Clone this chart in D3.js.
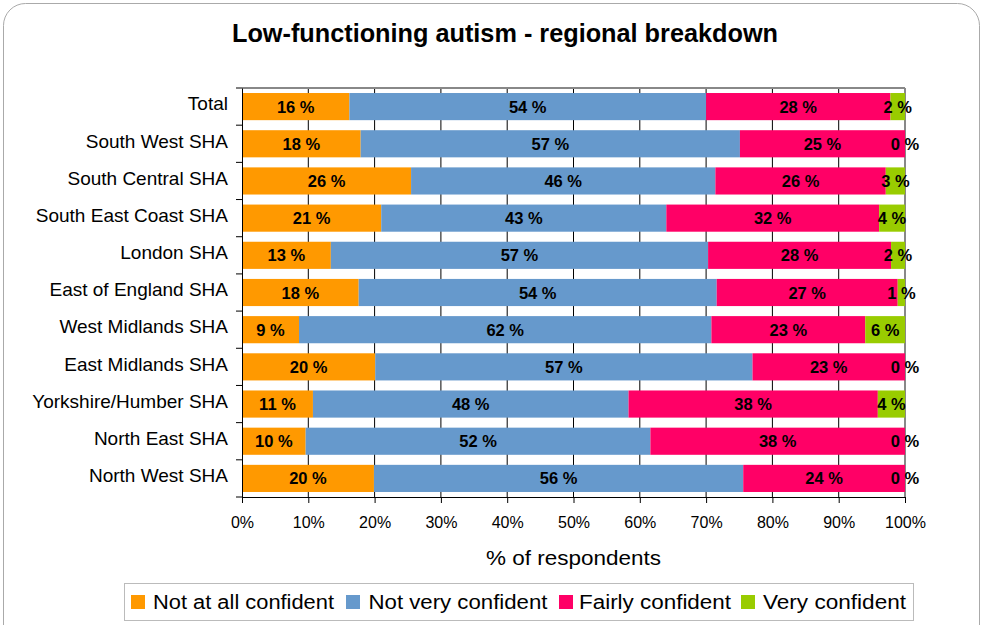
<!DOCTYPE html>
<html><head><meta charset="utf-8">
<script src="https://cdn.jsdelivr.net/npm/d3@7"></script>
<style>body{margin:0;background:#fff;font-family:"Liberation Sans",Arial,sans-serif}</style>
</head><body><svg id="c" width="983" height="625"></svg>
<script>
const categories = ["Total","South West SHA","South Central SHA","South East Coast SHA","London SHA","East of England SHA","West Midlands SHA","East Midlands SHA","Yorkshire/Humber SHA","North East SHA","North West SHA"];
const seriesNames = ["Not at all confident","Not very confident","Fairly confident","Very confident"];
const colors = ["#FF9900","#6699CC","#FF0066","#99CC00"];
const notAtAll = [16.2,17.9,25.5,21.0,13.4,17.6,8.6,20.1,10.7,9.6,19.9];
const notVery  = [53.8,57.2,45.9,43.0,56.9,54.0,62.2,56.9,47.6,52.0,55.7];
const fairly   = [27.8,24.9,25.7,32.1,27.6,27.3,23.2,23.0,37.6,38.4,24.4];
const very     = [2.2,0,2.9,3.9,2.1,1.1,6.0,0,4.1,0,0];
const xTicks = [0,10,20,30,40,50,60,70,80,90,100];

const FONT = "Liberation Sans, Arial, sans-serif";
const svg = d3.select("#c");
svg.append("rect").attr("x",3.5).attr("y",3.5).attr("width",976).attr("height",660).attr("rx",22)
  .attr("fill","#fff").attr("stroke","#aaa").attr("stroke-width",1);
svg.append("text").attr("x",505).attr("y",42).attr("text-anchor","middle")
  .attr("font-size",25).attr("font-weight","bold")
  .attr("textLength",546).attr("lengthAdjust","spacingAndGlyphs")
  .text("Low-functioning autism - regional breakdown");

const L=242, R=905, T=88, B=497;
const x = d3.scaleLinear().domain([0,100]).range([L,R]);
const y = d3.scaleBand().domain(categories).range([T,B]).paddingInner(0.27).paddingOuter(0.135);
const yb = d3.scaleBand().domain(categories).range([T,B]);

// gridlines
svg.append("g").selectAll("line").data(xTicks.slice(1)).join("line")
  .attr("x1",d=>x(d)).attr("x2",d=>x(d)).attr("y1",T).attr("y2",B)
  .attr("stroke",d=>d===100?"#888":"#000").attr("stroke-width",d=>d===100?2:1);
svg.append("line").attr("x1",L).attr("x2",R).attr("y1",T).attr("y2",T).attr("stroke","#888").attr("stroke-width",2);

const stackData = categories.map((c,i)=>({c, s0:notAtAll[i], s1:notVery[i], s2:fairly[i], s3:very[i]}));
const stack = d3.stack().keys(["s0","s1","s2","s3"])(stackData);

const g = svg.append("g");
stack.forEach((layer,k)=>{
  g.selectAll(null).data(layer).join("rect")
    .attr("x",d=>x(d[0])).attr("width",d=>Math.max(0,x(d[1])-x(d[0])))
    .attr("y",d=>y(d.data.c)).attr("height",y.bandwidth())
    .attr("fill",colors[k]);
});
stack.forEach((layer,k)=>{
  g.selectAll(null).data(layer).join("text")
    .attr("x",d=>(x(d[0])+x(d[1]))/2).attr("y",d=>y(d.data.c)+y.bandwidth()/2+6)
    .attr("text-anchor","middle").attr("font-size",16.5).attr("font-weight","bold").attr("fill","#000")
    .text(d=>Math.round(d[1]-d[0])+" %");
});

// axes
const xa = svg.append("g").attr("transform",`translate(0,${B})`)
  .call(d3.axisBottom(x).tickValues(xTicks).tickFormat(d=>d+"%").tickSize(6).tickSizeOuter(0));
xa.select(".domain").attr("stroke","#000");
xa.selectAll(".tick text").attr("font-size",16).attr("font-family",FONT).attr("y",31).attr("dy",0).attr("fill","#000");
const ya = svg.append("g").attr("transform",`translate(${L},0)`)
  .call(d3.axisLeft(yb).tickSize(0).tickPadding(14));
ya.select(".domain").attr("stroke","#000");
ya.selectAll(".tick text").attr("font-size",19).attr("font-family",FONT).attr("fill","#000").attr("dy","0.2em");
svg.append("g").selectAll("line").data(d3.range(categories.length+1)).join("line")
  .attr("x1",L-6).attr("x2",L).attr("y1",i=>T+i*yb.step()).attr("y2",i=>T+i*yb.step()).attr("stroke","#000");

svg.append("text").attr("x",(L+R)/2).attr("y",565).attr("text-anchor","middle").attr("font-size",21)
  .attr("textLength",175).attr("lengthAdjust","spacingAndGlyphs").text("% of respondents");

// legend
svg.append("rect").attr("x",124.5).attr("y",583.5).attr("width",789).attr("height",37).attr("fill","#fff").attr("stroke","#bbb");
const sqX = [131,346,559,741], txX = [153,368.5,579,763], txW = [181,179,152,143];
const lg = svg.append("g").selectAll("g").data(seriesNames).join("g");
lg.append("rect").attr("x",(d,i)=>sqX[i]).attr("y",595).attr("width",14).attr("height",14).attr("fill",(d,i)=>colors[i]);
lg.append("text").attr("x",(d,i)=>txX[i]).attr("y",609).attr("font-size",20)
  .attr("textLength",(d,i)=>txW[i]).attr("lengthAdjust","spacingAndGlyphs").text(d=>d);
</script></body></html>
